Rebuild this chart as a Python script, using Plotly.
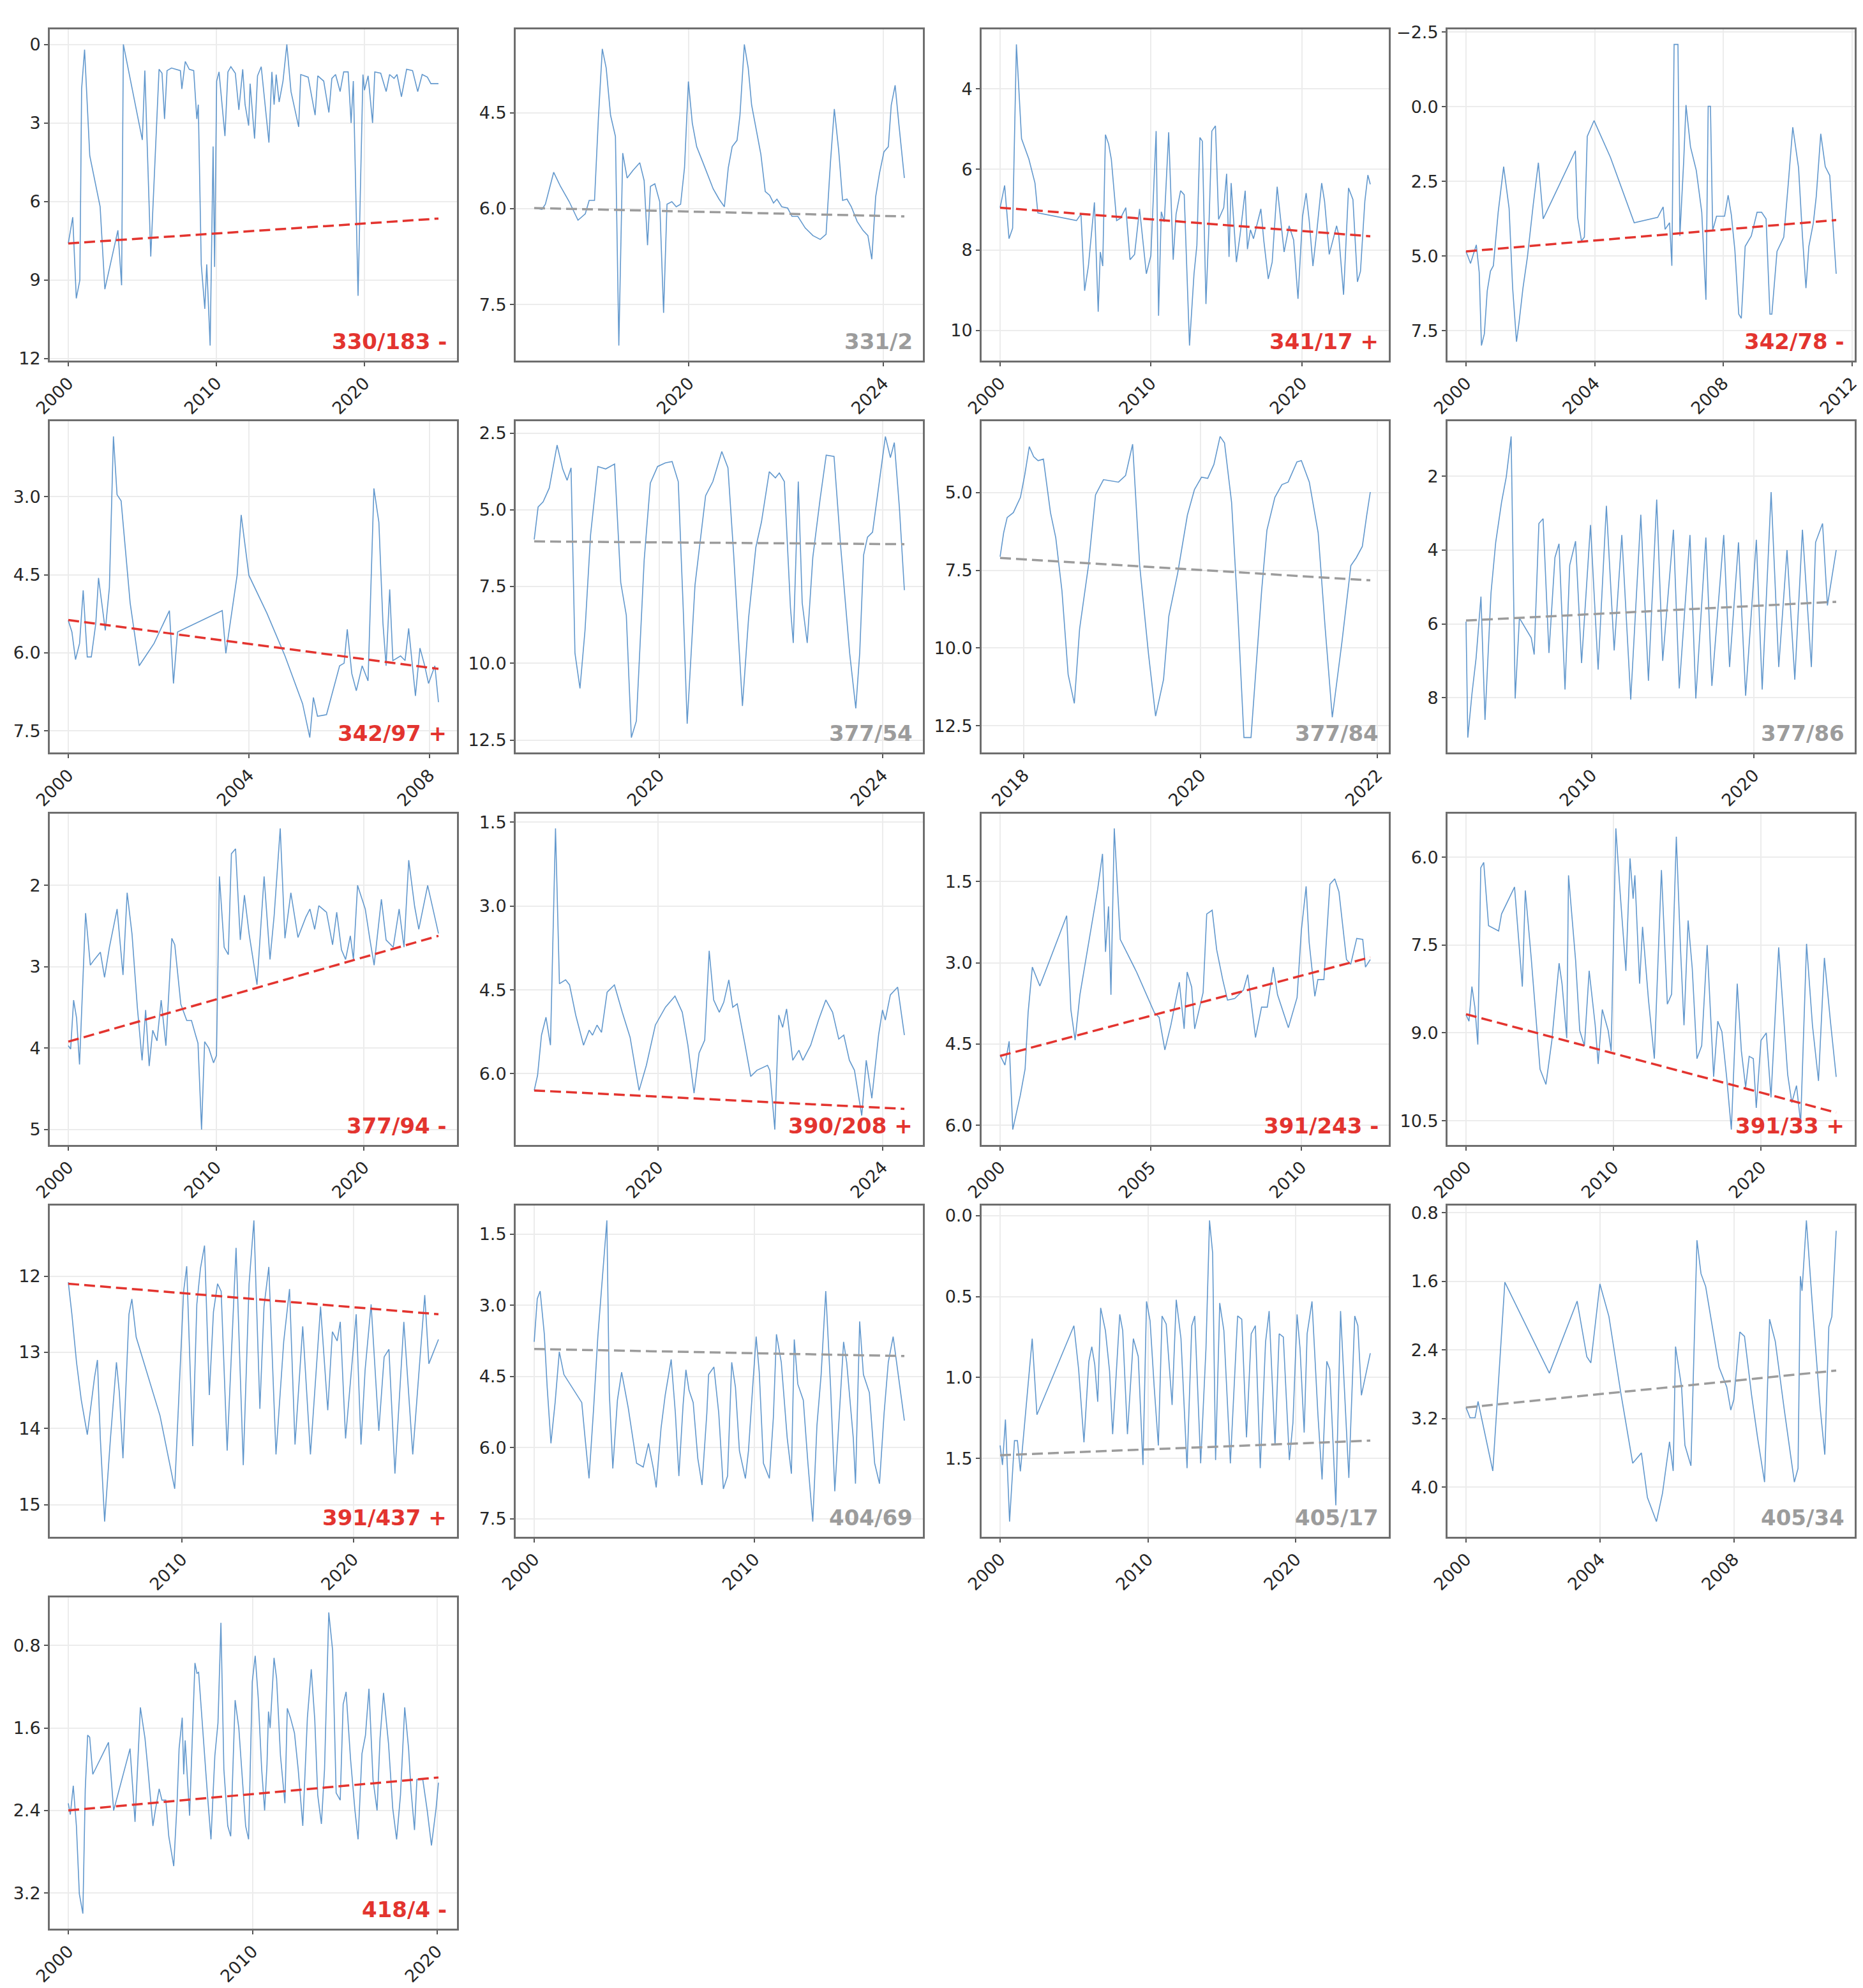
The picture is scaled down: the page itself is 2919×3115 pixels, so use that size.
import plotly.graph_objects as go

FONT = "DejaVu Sans"
BLUE = "rgba(70,134,196,0.85)"
RED = "#e3342f"
GRAY = "#9c9c9c"

# ---------------- data (decimal year, value) ----------------
p01 = [(2000.0,7.6),(2000.3,6.6),(2000.54,9.7),(2000.78,9.0),(2000.9,1.7),(2001.1,0.2),(2001.45,4.25),(2002.15,6.2),(2002.47,9.35),(2003.35,7.1),(2003.6,9.2),(2003.72,0.0),(2005.0,3.65),(2005.17,1.0),(2005.57,8.1),(2005.77,5.6),(2006.13,0.95),(2006.33,1.1),(2006.5,2.85),(2006.67,1.0),(2006.97,0.9),(2007.57,1.0),(2007.67,1.7),(2007.9,0.65),(2008.17,0.95),(2008.47,1.0),(2008.68,2.85),(2008.78,2.3),(2008.98,8.4),(2009.22,10.1),(2009.35,8.4),(2009.58,11.5),(2009.78,3.9),(2009.88,8.5),(2010.02,1.4),(2010.18,1.05),(2010.58,3.5),(2010.78,1.05),(2010.98,0.85),(2011.28,1.1),(2011.52,2.5),(2011.78,0.95),(2011.94,2.3),(2012.18,3.1),(2012.28,1.5),(2012.58,3.6),(2012.78,1.2),(2013.03,0.85),(2013.3,2.3),(2013.55,3.75),(2013.75,1.05),(2013.9,2.3),(2014.04,1.15),(2014.24,2.2),(2014.5,1.4),(2014.76,0.0),(2015.04,1.8),(2015.56,3.15),(2015.7,1.15),(2016.2,1.25),(2016.67,2.7),(2016.85,1.2),(2017.25,1.4),(2017.6,2.6),(2017.8,1.3),(2018.05,1.15),(2018.36,1.8),(2018.6,1.05),(2018.9,1.05),(2019.1,3.0),(2019.25,1.4),(2019.57,9.6),(2019.9,1.15),(2020.0,1.75),(2020.25,1.2),(2020.55,3.0),(2020.7,1.05),(2021.1,1.1),(2021.47,1.8),(2021.7,1.15),(2022.0,1.3),(2022.2,1.15),(2022.5,2.0),(2022.85,0.95),(2023.25,1.0),(2023.6,1.8),(2023.9,1.15),(2024.25,1.25),(2024.49,1.5),(2025.0,1.5)]
p02 = [(2016.82,5.99),(2016.98,6.01),(2017.05,5.93),(2017.22,5.43),(2017.36,5.65),(2017.54,5.89),(2017.72,6.18),(2017.87,6.08),(2017.95,5.87),(2018.06,5.87),(2018.14,4.58),(2018.22,3.50),(2018.30,3.80),(2018.39,4.54),(2018.49,4.87),(2018.56,8.14),(2018.64,5.13),(2018.73,5.52),(2018.85,5.40),(2018.99,5.28),(2019.08,5.56),(2019.15,6.57),(2019.21,5.65),(2019.30,5.61),(2019.40,5.89),(2019.48,7.63),(2019.55,5.93),(2019.65,5.89),(2019.74,5.97),(2019.83,5.93),(2019.91,5.36),(2019.99,4.01),(2020.07,4.66),(2020.16,5.03),(2020.29,5.28),(2020.41,5.52),(2020.50,5.69),(2020.62,5.85),(2020.73,5.97),(2020.81,5.36),(2020.89,5.03),(2020.99,4.93),(2021.05,4.54),(2021.14,3.43),(2021.22,3.80),(2021.29,4.38),(2021.39,4.79),(2021.48,5.15),(2021.57,5.73),(2021.66,5.79),(2021.74,5.91),(2021.81,5.85),(2021.91,5.97),(2022.03,5.99),(2022.12,6.12),(2022.24,6.12),(2022.39,6.30),(2022.55,6.42),(2022.70,6.48),(2022.82,6.40),(2022.91,5.28),(2022.99,4.44),(2023.08,5.09),(2023.16,5.87),(2023.25,5.85),(2023.34,5.97),(2023.46,6.20),(2023.58,6.34),(2023.68,6.42),(2023.76,6.79),(2023.84,5.81),(2023.92,5.44),(2024.01,5.11),(2024.10,5.03),(2024.16,4.38),(2024.24,4.07),(2024.32,4.70),(2024.43,5.52)]
p03 = [(2000.0,6.95),(2000.3,6.4),(2000.59,7.72),(2000.83,7.46),(2001.08,2.9),(2001.42,5.24),(2001.91,5.75),(2002.31,6.34),(2002.5,7.08),(2003.29,7.14),(2004.28,7.21),(2005.06,7.27),(2005.36,7.11),(2005.6,9.01),(2005.85,8.4),(2006.05,7.63),(2006.25,6.82),(2006.5,9.53),(2006.64,8.05),(2006.8,8.4),(2006.98,5.14),(2007.19,5.37),(2007.37,5.75),(2007.72,7.27),(2007.98,7.21),(2008.33,6.95),(2008.61,8.24),(2008.91,8.11),(2009.24,6.98),(2009.69,8.59),(2009.99,8.14),(2010.34,5.05),(2010.5,9.63),(2010.68,7.05),(2010.88,7.3),(2011.17,5.08),(2011.47,8.24),(2011.66,7.11),(2011.96,6.53),(2012.2,6.63),(2012.55,10.37),(2012.85,8.59),(2013.04,7.88),(2013.24,5.21),(2013.4,5.3),(2013.64,9.34),(2013.83,7.5),(2014.03,5.05),(2014.27,4.92),(2014.48,7.24),(2014.82,6.95),(2015.01,6.11),(2015.17,8.17),(2015.31,6.34),(2015.66,8.3),(2015.9,7.63),(2016.24,6.53),(2016.39,7.98),(2016.59,7.5),(2016.79,7.72),(2017.28,6.98),(2017.48,7.79),(2017.77,8.72),(2018.03,8.3),(2018.36,6.43),(2018.82,8.05),(2019.15,7.4),(2019.45,7.75),(2019.74,9.21),(2020.04,7.17),(2020.28,6.59),(2020.49,7.3),(2020.73,8.4),(2020.98,7.56),(2021.31,6.34),(2021.5,6.79),(2021.81,8.11),(2022.3,7.4),(2022.44,7.63),(2022.76,9.11),(2023.09,6.46),(2023.38,6.75),(2023.68,8.79),(2023.88,8.53),(2024.17,6.79),(2024.37,6.14),(2024.53,6.37)]
p04 = [(2000.0,4.84),(2000.14,5.24),(2000.32,4.62),(2000.41,5.54),(2000.48,7.99),(2000.57,7.6),(2000.66,6.16),(2000.76,5.5),(2000.85,5.32),(2001.0,3.53),(2001.17,2.0),(2001.34,3.4),(2001.45,6.07),(2001.57,7.86),(2001.65,7.21),(2001.77,6.07),(2001.91,5.02),(2002.09,3.27),(2002.25,1.87),(2002.4,3.75),(2002.92,2.57),(2003.4,1.47),(2003.47,3.7),(2003.59,4.49),(2003.68,4.36),(2003.77,0.99),(2003.98,0.46),(2004.49,1.69),(2005.23,3.88),(2005.59,3.79),(2005.96,3.7),(2006.13,3.35),(2006.19,4.1),(2006.33,3.88),(2006.4,5.32),(2006.47,-2.09),(2006.59,-2.09),(2006.65,4.32),(2006.77,1.78),(2006.84,-0.06),(2006.98,1.34),(2007.16,2.13),(2007.33,3.53),(2007.46,6.46),(2007.53,-0.02),(2007.6,-0.02),(2007.67,4.14),(2007.79,3.66),(2008.04,3.66),(2008.15,2.96),(2008.25,3.62),(2008.36,4.8),(2008.48,6.94),(2008.56,7.08),(2008.68,4.67),(2008.87,4.32),(2009.05,3.53),(2009.19,3.53),(2009.33,3.75),(2009.45,6.94),(2009.51,6.94),(2009.67,4.84),(2009.88,4.36),(2010.02,2.57),(2010.16,0.68),(2010.34,2.04),(2010.46,4.32),(2010.57,6.07),(2010.66,4.67),(2010.8,3.88),(2010.89,3.0),(2011.03,0.9),(2011.17,2.0),(2011.31,2.3),(2011.51,5.59)]
p05 = [(2000.0,5.38),(2000.08,5.6),(2000.16,6.13),(2000.25,5.82),(2000.33,4.8),(2000.42,6.08),(2000.51,6.08),(2000.61,5.43),(2000.67,4.56),(2000.82,5.57),(2000.91,4.75),(2001.0,1.84),(2001.08,2.96),(2001.17,3.08),(2001.37,5.04),(2001.57,6.25),(2001.9,5.82),(2002.24,5.19),(2002.33,6.59),(2002.42,5.6),(2003.41,5.19),(2003.49,6.01),(2003.74,4.51),(2003.83,3.35),(2004.0,4.51),(2004.4,5.24),(2004.8,6.06),(2005.19,6.98),(2005.35,7.63),(2005.43,6.86),(2005.52,7.22),(2005.72,7.19),(2006.01,6.25),(2006.11,6.2),(2006.18,5.55),(2006.28,6.4),(2006.38,6.73),(2006.51,6.25),(2006.64,6.54),(2006.77,2.84),(2006.88,3.49),(2006.97,5.43),(2007.04,6.25),(2007.12,4.78),(2007.19,6.15),(2007.36,6.06),(2007.46,6.15),(2007.54,5.53),(2007.69,6.83),(2007.79,5.91),(2007.89,6.23),(2007.98,6.59),(2008.12,6.25),(2008.2,6.95)]
p06 = [(2017.76,5.97),(2017.83,4.91),(2017.92,4.74),(2018.03,4.29),(2018.17,2.89),(2018.27,3.67),(2018.35,4.04),(2018.42,3.63),(2018.49,9.67),(2018.58,10.82),(2018.67,8.93),(2018.77,5.81),(2018.9,3.59),(2019.04,3.67),(2019.2,3.51),(2019.31,7.37),(2019.41,8.44),(2019.5,12.42),(2019.59,11.88),(2019.73,6.63),(2019.84,4.13),(2019.97,3.59),(2020.11,3.47),(2020.23,3.43),(2020.34,4.08),(2020.43,8.27),(2020.5,11.97),(2020.64,7.45),(2020.83,4.54),(2020.96,4.08),(2021.12,3.1),(2021.23,3.63),(2021.33,6.38),(2021.49,11.39),(2021.6,8.52),(2021.73,6.22),(2021.83,5.4),(2021.97,3.76),(2022.08,3.96),(2022.15,3.8),(2022.24,4.08),(2022.35,8.19),(2022.4,9.34),(2022.49,4.08),(2022.56,8.03),(2022.65,9.34),(2022.75,6.55),(2022.88,4.66),(2022.99,3.22),(2023.13,3.26),(2023.25,6.22),(2023.41,9.67),(2023.52,11.47),(2023.59,9.67),(2023.66,6.47),(2023.73,5.89),(2023.82,5.73),(2023.95,3.92),(2024.05,2.61),(2024.14,3.3),(2024.21,2.81),(2024.3,4.91),(2024.39,7.62)]
p07 = [(2017.73,7.06),(2017.77,6.29),(2017.81,5.8),(2017.88,5.64),(2017.96,5.15),(2018.01,4.41),(2018.06,3.52),(2018.11,3.84),(2018.16,3.97),(2018.22,3.92),(2018.3,5.64),(2018.36,6.45),(2018.43,8.16),(2018.5,10.85),(2018.57,11.78),(2018.63,9.38),(2018.73,7.35),(2018.81,5.07),(2018.9,4.58),(2019.0,4.62),(2019.07,4.66),(2019.15,4.45),(2019.23,3.44),(2019.31,7.35),(2019.41,10.2),(2019.49,12.19),(2019.58,11.01),(2019.64,8.97),(2019.74,7.59),(2019.85,5.72),(2019.93,4.9),(2020.01,4.5),(2020.08,4.54),(2020.15,4.09),(2020.22,3.19),(2020.27,3.4),(2020.35,5.31),(2020.42,8.81),(2020.49,12.88),(2020.57,12.88),(2020.69,8.16),(2020.75,6.21),(2020.84,5.15),(2020.92,4.74),(2020.99,4.66),(2021.09,4.01),(2021.14,3.97),(2021.23,4.66),(2021.33,6.29),(2021.41,9.38),(2021.49,12.23),(2021.6,9.79),(2021.7,7.35),(2021.76,7.1),(2021.83,6.73),(2021.88,5.72),(2021.92,4.98)]
p08 = [(2002.26,5.94),(2002.37,9.08),(2002.63,7.88),(2002.88,6.93),(2003.18,5.26),(2003.43,8.6),(2003.8,5.16),(2004.09,3.79),(2004.45,2.7),(2004.74,2.02),(2005.04,0.92),(2005.29,8.02),(2005.55,5.84),(2006.28,6.38),(2006.46,6.83),(2006.75,3.28),(2007.01,3.15),(2007.37,6.79),(2007.74,4.2),(2007.99,3.83),(2008.36,7.78),(2008.65,4.41),(2009.01,3.76),(2009.38,7.06),(2009.93,3.32),(2010.4,7.24),(2010.91,2.8),(2011.39,6.72),(2011.86,3.59),(2012.41,8.05),(2013.03,3.04),(2013.5,7.54),(2014.01,2.63),(2014.38,7.0),(2015.04,3.45),(2015.4,7.75),(2016.06,3.59),(2016.42,8.02),(2017.04,3.66),(2017.41,7.68),(2018.14,3.59),(2018.5,7.17),(2019.05,3.79),(2019.49,7.95),(2020.15,3.72),(2020.51,7.78),(2021.06,2.43),(2021.53,7.17),(2022.04,4.0),(2022.52,7.51),(2022.99,3.45),(2023.54,7.17),(2023.8,3.79),(2024.23,3.28),(2024.53,5.5),(2025.07,4.0)]
p09 = [(2000.0,3.97),(2000.16,4.01),(2000.36,3.41),(2000.56,3.63),(2000.76,4.2),(2000.97,3.29),(2001.17,2.34),(2001.49,2.98),(2001.77,2.91),(2002.17,2.82),(2002.45,3.13),(2002.78,2.76),(2003.3,2.29),(2003.7,3.1),(2003.98,2.09),(2004.31,2.6),(2004.67,3.5),(2004.99,4.15),(2005.23,3.53),(2005.47,4.22),(2005.71,3.78),(2006.0,3.91),(2006.28,3.41),(2006.6,3.97),(2007.0,2.65),(2007.2,2.73),(2007.61,3.46),(2008.01,3.66),(2008.33,3.66),(2008.61,3.84),(2008.77,3.94),(2009.01,5.0),(2009.22,3.92),(2009.5,4.0),(2009.82,4.18),(2010.02,4.09),(2010.22,1.89),(2010.54,2.76),(2010.82,2.85),(2011.03,1.61),(2011.31,1.55),(2011.63,2.67),(2011.91,2.12),(2012.23,2.6),(2012.76,3.22),(2013.24,1.89),(2013.64,2.91),(2013.92,2.37),(2014.33,1.3),(2014.65,2.65),(2015.05,2.09),(2015.53,2.64),(2016.06,2.39),(2016.34,2.29),(2016.66,2.54),(2016.94,2.25),(2017.46,2.33),(2017.87,2.73),(2018.15,2.33),(2018.47,2.79),(2018.75,2.91),(2019.07,2.62),(2019.28,2.91),(2019.56,2.0),(2020.08,2.29),(2020.4,2.67),(2020.68,2.98),(2021.17,2.17),(2021.49,2.67),(2021.97,2.76),(2022.37,2.29),(2022.7,2.76),(2023.02,1.69),(2023.42,2.26),(2023.7,2.54),(2024.3,2.0),(2024.71,2.34),(2025.03,2.59)]
p10 = [(2017.79,6.3),(2017.85,6.03),(2017.92,5.31),(2018.0,4.99),(2018.08,5.49),(2018.17,1.61),(2018.24,4.39),(2018.35,4.32),(2018.42,4.41),(2018.53,4.95),(2018.67,5.49),(2018.77,5.22),(2018.83,5.31),(2018.91,5.13),(2018.99,5.26),(2019.09,4.54),(2019.22,4.41),(2019.36,4.9),(2019.5,5.35),(2019.66,6.3),(2019.79,5.85),(2019.95,5.13),(2020.13,4.81),(2020.3,4.61),(2020.43,4.9),(2020.53,5.49),(2020.64,6.35),(2020.73,5.63),(2020.83,5.4),(2020.91,3.8),(2020.99,4.68),(2021.09,4.9),(2021.17,4.72),(2021.26,4.32),(2021.33,4.81),(2021.41,4.75),(2021.55,5.49),(2021.65,6.05),(2021.76,5.94),(2021.95,5.85),(2021.99,5.94),(2022.08,7.0),(2022.15,4.95),(2022.22,5.17),(2022.29,4.84),(2022.4,5.76),(2022.51,5.58),(2022.58,5.76),(2022.72,5.49),(2022.86,5.04),(2022.99,4.68),(2023.11,4.9),(2023.22,5.38),(2023.31,5.31),(2023.41,5.76),(2023.5,5.94),(2023.63,6.75),(2023.71,5.76),(2023.81,6.44),(2023.93,5.31),(2024.0,4.86),(2024.05,5.04),(2024.14,4.59),(2024.27,4.45),(2024.39,5.31)]
p11 = [(2000.0,4.71),(2000.16,4.89),(2000.3,4.45),(2000.42,6.08),(2000.67,5.45),(2000.83,4.96),(2000.93,3.92),(2001.07,3.08),(2001.32,3.43),(2002.21,2.13),(2002.35,3.87),(2002.49,4.43),(2002.65,3.59),(2002.85,2.94),(2003.08,2.15),(2003.24,1.64),(2003.4,0.99),(2003.5,2.8),(2003.6,1.96),(2003.68,3.59),(2003.79,0.52),(2003.99,2.57),(2004.53,3.17),(2005.12,3.92),(2005.28,4.01),(2005.47,4.61),(2005.67,4.15),(2005.95,3.36),(2006.11,4.22),(2006.21,3.17),(2006.36,3.45),(2006.46,4.22),(2006.74,3.55),(2006.86,2.1),(2007.04,2.03),(2007.19,2.76),(2007.39,3.31),(2007.55,3.69),(2007.79,3.66),(2008.08,3.5),(2008.22,3.22),(2008.48,4.38),(2008.68,3.82),(2008.87,3.82),(2009.07,3.08),(2009.21,3.59),(2009.57,4.2),(2009.86,3.64),(2010.0,2.41),(2010.16,1.59),(2010.26,2.62),(2010.45,3.62),(2010.55,3.31),(2010.75,3.31),(2010.95,1.55),(2011.11,1.45),(2011.25,1.69),(2011.5,2.94),(2011.64,3.03),(2011.84,2.55),(2012.04,2.57),(2012.13,3.08),(2012.29,2.94)]
p12 = [(2000.0,8.69),(2000.2,8.8),(2000.4,8.21),(2000.6,8.56),(2000.8,9.2),(2001.0,6.18),(2001.2,6.09),(2001.53,7.17),(2002.21,7.26),(2002.41,6.97),(2003.29,6.51),(2003.82,8.21),(2004.02,6.57),(2004.42,7.72),(2005.02,9.62),(2005.42,9.88),(2005.82,9.13),(2006.31,7.81),(2006.51,8.16),(2006.83,9.09),(2006.95,6.31),(2007.43,7.76),(2007.71,8.96),(2008.03,9.22),(2008.35,7.94),(2008.76,8.87),(2008.96,9.53),(2009.24,8.6),(2009.64,8.96),(2009.84,9.31),(2010.16,5.51),(2010.44,6.57),(2010.84,7.94),(2011.12,6.02),(2011.33,6.71),(2011.45,6.31),(2011.77,8.16),(2011.97,7.19),(2012.37,8.43),(2012.77,9.44),(2013.25,6.22),(2013.65,8.51),(2013.94,8.34),(2014.26,5.65),(2014.54,7.54),(2014.78,8.87),(2015.06,7.08),(2015.34,7.9),(2015.66,9.44),(2015.98,9.22),(2016.35,7.5),(2016.79,9.75),(2017.07,8.8),(2017.35,8.98),(2017.67,9.75),(2017.99,10.65),(2018.39,8.16),(2018.67,9.31),(2018.96,9.93),(2019.2,9.4),(2019.48,9.44),(2019.68,10.28),(2020.0,9.13),(2020.36,9.0),(2020.68,10.1),(2021.2,7.54),(2021.49,8.56),(2021.81,9.71),(2022.09,10.19),(2022.41,9.9),(2022.69,10.54),(2023.09,7.48),(2023.49,8.87),(2023.9,9.82),(2024.3,7.72),(2024.7,8.78),(2025.1,9.75)]
p13 = [(2003.37,12.08),(2003.58,12.5),(2003.85,13.13),(2004.13,13.63),(2004.48,14.08),(2004.9,13.33),(2005.07,13.1),(2005.24,14.13),(2005.49,15.22),(2005.83,14.13),(2006.18,13.13),(2006.35,13.53),(2006.56,14.39),(2006.91,12.5),(2007.08,12.3),(2007.33,12.8),(2008.72,13.83),(2009.58,14.79),(2010.1,12.2),(2010.28,11.87),(2010.63,14.23),(2010.87,12.37),(2011.08,11.9),(2011.32,11.6),(2011.6,13.56),(2011.84,12.47),(2012.08,12.1),(2012.29,12.2),(2012.64,14.29),(2012.88,13.06),(2013.16,11.63),(2013.58,14.48),(2013.92,12.1),(2014.2,11.27),(2014.55,13.74),(2014.79,12.4),(2015.07,11.88),(2015.49,14.34),(2015.94,12.86),(2016.28,12.17),(2016.6,14.21),(2017.05,12.66),(2017.5,14.34),(2018.09,12.4),(2018.51,13.76),(2018.78,12.73),(2019.06,12.85),(2019.24,12.6),(2019.55,14.13),(2019.93,13.13),(2020.17,12.5),(2020.45,14.21),(2020.69,13.23),(2021.04,12.37),(2021.49,14.03),(2021.8,13.06),(2022.08,12.96),(2022.43,14.59),(2022.95,12.6),(2023.47,14.34),(2023.92,13.0),(2024.17,12.25),(2024.41,13.15),(2024.97,12.83)]
p14 = [(2000.0,3.77),(2000.14,2.86),(2000.27,2.7),(2000.46,3.61),(2000.59,4.73),(2000.76,5.91),(2000.95,5.05),(2001.14,3.98),(2001.35,4.46),(2002.16,5.05),(2002.3,5.75),(2002.49,6.65),(2002.7,5.16),(2002.89,3.66),(2003.05,2.7),(2003.3,1.21),(2003.41,4.84),(2003.57,6.44),(2003.78,5.0),(2003.97,4.41),(2004.27,5.16),(2004.65,6.33),(2004.95,6.41),(2005.19,5.91),(2005.41,6.44),(2005.54,6.84),(2005.76,5.59),(2005.95,4.89),(2006.22,4.14),(2006.41,5.27),(2006.57,6.6),(2006.76,5.11),(2006.89,4.36),(2007.03,4.79),(2007.22,5.05),(2007.43,6.23),(2007.62,6.79),(2007.84,5.27),(2007.92,4.46),(2008.16,4.3),(2008.38,5.27),(2008.59,6.87),(2008.78,6.6),(2008.97,4.2),(2009.14,4.73),(2009.32,6.07),(2009.59,6.65),(2009.73,6.07),(2009.92,4.73),(2010.08,3.66),(2010.22,4.41),(2010.41,6.33),(2010.68,6.65),(2010.86,5.37),(2011.0,3.61),(2011.22,4.2),(2011.49,5.8),(2011.68,6.55),(2011.81,3.72),(2011.97,4.66),(2012.22,5.0),(2012.43,6.33),(2012.65,7.56),(2012.84,5.53),(2013.03,4.46),(2013.24,2.7),(2013.46,4.73),(2013.65,6.92),(2013.86,5.27),(2014.05,3.77),(2014.19,4.2),(2014.49,5.8),(2014.59,6.76),(2014.78,3.34),(2014.95,4.46),(2015.22,4.84),(2015.46,6.33),(2015.68,6.76),(2015.89,5.27),(2016.08,4.2),(2016.3,3.66),(2016.57,4.62),(2016.81,5.43)]
p15 = [(2000.0,1.42),(2000.16,1.54),(2000.36,1.26),(2000.64,1.89),(2000.97,1.39),(2001.17,1.39),(2001.37,1.58),(2001.77,1.17),(2002.17,0.76),(2002.49,1.23),(2004.99,0.68),(2005.31,0.95),(2005.67,1.4),(2006.0,0.9),(2006.2,0.81),(2006.4,0.92),(2006.6,1.15),(2006.8,0.57),(2007.12,0.71),(2007.4,0.96),(2007.61,1.35),(2008.09,0.61),(2008.29,0.71),(2008.61,1.35),(2009.01,0.76),(2009.34,0.87),(2009.66,1.54),(2009.9,0.53),(2010.14,0.65),(2010.42,1.06),(2010.7,1.42),(2010.95,0.62),(2011.23,0.67),(2011.63,1.17),(2011.91,0.52),(2012.23,0.76),(2012.64,1.56),(2012.96,0.68),(2013.16,0.62),(2013.56,1.53),(2013.92,0.82),(2014.16,0.03),(2014.37,0.23),(2014.57,1.51),(2014.85,0.54),(2015.13,0.71),(2015.57,1.53),(2016.06,0.62),(2016.34,0.64),(2016.66,1.37),(2016.98,0.73),(2017.26,0.68),(2017.59,1.56),(2017.95,0.78),(2018.19,0.59),(2018.59,1.42),(2018.87,0.73),(2019.15,0.75),(2019.56,1.51),(2019.8,1.28),(2020.08,0.61),(2020.28,0.82),(2020.56,1.34),(2020.76,0.73),(2021.09,0.53),(2021.49,1.23),(2021.77,1.63),(2022.09,0.9),(2022.29,0.95),(2022.7,1.79),(2023.02,0.59),(2023.58,1.62),(2023.98,0.62),(2024.19,0.68),(2024.43,1.11),(2025.03,0.85)]
p16 = [(2000.0,3.07),(2000.12,3.19),(2000.27,3.19),(2000.36,3.0),(2000.8,3.81),(2000.98,2.72),(2001.16,1.61),(2002.49,2.67),(2003.32,1.83),(2003.61,2.48),(2003.73,2.55),(2004.0,1.63),(2004.27,2.01),(2004.62,2.89),(2004.98,3.72),(2005.24,3.6),(2005.42,4.12),(2005.69,4.4),(2005.87,4.07),(2006.08,3.47),(2006.19,3.81),(2006.26,2.36),(2006.44,2.83),(2006.54,3.51),(2006.72,3.75),(2006.9,1.12),(2007.02,1.51),(2007.16,1.66),(2007.56,2.6),(2007.79,2.83),(2007.91,3.1),(2008.0,2.98),(2008.18,2.19),(2008.32,2.24),(2008.53,2.92),(2008.71,3.42),(2008.92,3.94),(2009.07,2.04),(2009.24,2.3),(2009.51,3.1),(2009.69,3.6),(2009.81,3.94),(2009.92,3.78),(2009.99,1.54),(2010.04,1.71),(2010.17,0.89),(2010.35,1.89),(2010.58,3.07),(2010.72,3.62),(2010.84,2.13),(2010.93,2.01),(2011.06,1.01)]
p17 = [(2000.0,2.33),(2000.11,2.44),(2000.27,2.16),(2000.44,2.55),(2000.6,3.21),(2000.79,3.4),(2000.92,2.2),(2001.05,1.67),(2001.16,1.69),(2001.33,2.05),(2002.18,1.74),(2002.46,2.4),(2003.35,1.8),(2003.62,2.51),(2003.91,1.4),(2004.16,1.7),(2004.32,2.0),(2004.59,2.55),(2004.72,2.4),(2004.93,2.19),(2005.08,2.3),(2005.29,2.3),(2005.45,2.65),(2005.72,2.94),(2005.9,2.33),(2006.01,1.8),(2006.18,1.5),(2006.26,2.05),(2006.34,1.72),(2006.58,2.45),(2006.87,0.97),(2006.98,1.07),(2007.07,1.06),(2007.19,1.37),(2007.36,1.75),(2007.55,2.25),(2007.74,2.68),(2007.95,1.87),(2008.12,1.55),(2008.28,0.58),(2008.44,2.0),(2008.65,2.55),(2008.81,2.65),(2009.05,1.33),(2009.25,1.6),(2009.46,2.13),(2009.62,2.55),(2009.78,2.68),(2009.98,1.15),(2010.14,0.9),(2010.3,1.3),(2010.49,2.0),(2010.65,2.4),(2010.78,1.95),(2010.86,1.44),(2010.95,1.6),(2011.16,0.92),(2011.3,1.12),(2011.51,1.87),(2011.75,2.33),(2011.88,1.41),(2012.05,1.5),(2012.27,1.65),(2012.47,2.0),(2012.72,2.55),(2012.97,1.5),(2013.18,1.03),(2013.37,1.52),(2013.53,2.25),(2013.73,2.53),(2013.9,2.0),(2014.13,0.48),(2014.34,0.85),(2014.53,2.23),(2014.75,2.3),(2014.91,1.37),(2015.07,1.25),(2015.31,1.9),(2015.55,2.4),(2015.72,2.68),(2015.93,1.85),(2016.12,1.67),(2016.31,1.22),(2016.53,2.1),(2016.75,2.4),(2016.91,1.7),(2017.1,1.26),(2017.37,1.75),(2017.6,2.38),(2017.81,2.68),(2018.02,2.25),(2018.25,1.4),(2018.46,1.8),(2018.59,2.2),(2018.78,2.59),(2018.91,2.1),(2019.23,2.1),(2019.47,2.4),(2019.7,2.74),(2019.95,2.38),(2020.08,2.13)]

series = [p01, p02, p03, p04, p05, p06, p07, p08, p09, p10, p11, p12, p13, p14, p15, p16, p17]

labels = ["330/183 -", "331/2", "341/17 +", "342/78 -",
          "342/97 +", "377/54", "377/84", "377/86",
          "377/94 -", "390/208 +", "391/243 -", "391/33 +",
          "391/437 +", "404/69", "405/17", "405/34",
          "418/4 -"]
significant = [True, False, True, True,
               True, False, False, False,
               True, True, True, True,
               True, False, False, False,
               True]
trend_start = [7.6, 5.99, 6.95, 4.84, 5.37, 6.03, 7.1, 5.91, 3.92, 6.3, 4.72, 8.68, 12.1, 3.92, 1.48, 3.07, 2.4]
trend_end = [6.65, 6.12, 7.66, 3.79, 6.31, 6.12, 7.82, 5.4, 2.62, 6.63, 2.9, 10.36, 12.5, 4.07, 1.39, 2.64, 2.08]

x_ticks = [[2000, 2010, 2020], [2020, 2024], [2000, 2010, 2020], [2000, 2004, 2008, 2012],
           [2000, 2004, 2008], [2020, 2024], [2018, 2020, 2022], [2010, 2020],
           [2000, 2010, 2020], [2020, 2024], [2000, 2005, 2010], [2000, 2010, 2020],
           [2010, 2020], [2000, 2010], [2000, 2010, 2020], [2000, 2004, 2008],
           [2000, 2010, 2020]]
y_ticks = [[0, 3, 6, 9, 12], [4.5, 6.0, 7.5], [4, 6, 8, 10], [-2.5, 0.0, 2.5, 5.0, 7.5],
           [3.0, 4.5, 6.0, 7.5], [2.5, 5.0, 7.5, 10.0, 12.5], [5.0, 7.5, 10.0, 12.5], [2, 4, 6, 8],
           [2, 3, 4, 5], [1.5, 3.0, 4.5, 6.0], [1.5, 3.0, 4.5, 6.0], [6.0, 7.5, 9.0, 10.5],
           [12, 13, 14, 15], [1.5, 3.0, 4.5, 6.0, 7.5], [0.0, 0.5, 1.0, 1.5], [0.8, 1.6, 2.4, 3.2, 4.0],
           [0.8, 1.6, 2.4, 3.2]]
y_tick_text = [["0", "3", "6", "9", "12"], ["4.5", "6.0", "7.5"], ["4", "6", "8", "10"],
               ["\u22122.5", "0.0", "2.5", "5.0", "7.5"],
               ["3.0", "4.5", "6.0", "7.5"], ["2.5", "5.0", "7.5", "10.0", "12.5"],
               ["5.0", "7.5", "10.0", "12.5"], ["2", "4", "6", "8"],
               ["2", "3", "4", "5"], ["1.5", "3.0", "4.5", "6.0"], ["1.5", "3.0", "4.5", "6.0"],
               ["6.0", "7.5", "9.0", "10.5"], ["12", "13", "14", "15"],
               ["1.5", "3.0", "4.5", "6.0", "7.5"], ["0.0", "0.5", "1.0", "1.5"],
               ["0.8", "1.6", "2.4", "3.2", "4.0"], ["0.8", "1.6", "2.4", "3.2"]]

# ---------------- figure ----------------
W, H = 2919, 3115
COL_LEFT, COL_STEP, PANEL_W = 70, 730, 638
ROW_TOP, ROW_STEP, PANEL_H = 38, 614.25, 519

fig = go.Figure()
layout = dict(width=W, height=H, margin=dict(l=0, r=0, t=0, b=0, autoexpand=False),
              paper_bgcolor="white", plot_bgcolor="white", showlegend=False,
              font=dict(family=FONT, color="#262626"))
annotations = []

for i, pts in enumerate(series):
    r, c = divmod(i, 4)
    xs = [p[0] for p in pts]
    ys = [p[1] for p in pts]
    sfx = "" if i == 0 else str(i + 1)
    xa, ya = "x" + sfx, "y" + sfx
    tcol = RED if significant[i] else GRAY

    fig.add_trace(go.Scatter(x=xs, y=ys, mode="lines", xaxis=xa, yaxis=ya,
                             line=dict(color=BLUE, width=1.6), hoverinfo="skip"))
    fig.add_trace(go.Scatter(x=[xs[0], xs[-1]], y=[trend_start[i], trend_end[i]],
                             mode="lines", xaxis=xa, yaxis=ya,
                             line=dict(color=tcol, width=3.5, dash="17px,8px"),
                             hoverinfo="skip"))

    ally = ys + [trend_start[i], trend_end[i]]
    xspan = max(xs) - min(xs)
    yspan = max(ally) - min(ally)
    xr = [min(xs) - 0.05 * xspan, max(xs) + 0.05 * xspan]
    yr = [max(ally) + 0.05 * yspan, min(ally) - 0.05 * yspan]

    left = COL_LEFT + COL_STEP * c
    top = ROW_TOP + ROW_STEP * r
    xdom = [left / W, (left + PANEL_W) / W]
    ydom = [1 - (top + PANEL_H) / H, 1 - top / H]

    axis_common = dict(showline=True, linecolor="#6e6e6e", linewidth=3, mirror=True,
                       showgrid=True, gridcolor="#ececec", gridwidth=1.5,
                       zeroline=False, ticks="outside", ticklen=6, tickwidth=1.5,
                       tickcolor="#555555", automargin=False,
                       tickfont=dict(family=FONT, size=27, color="#262626"))
    layout["xaxis" + sfx] = dict(domain=xdom, anchor=ya, range=xr,
                                 tickmode="array", tickvals=x_ticks[i],
                                 ticktext=[str(v) for v in x_ticks[i]],
                                 tickangle=-45, **axis_common)
    layout["yaxis" + sfx] = dict(domain=ydom, anchor=xa, range=yr,
                                 tickmode="array", tickvals=y_ticks[i],
                                 ticktext=y_tick_text[i], **axis_common)
    annotations.append(dict(text="<b>" + labels[i] + "</b>", xref=xa + " domain", yref=ya + " domain",
                            x=0.978, y=0.015, xanchor="right", yanchor="bottom", showarrow=False,
                            font=dict(family=FONT, size=34, color=tcol)))

layout["annotations"] = annotations
fig.update_layout(**layout)
fig.write_html("out.html")
